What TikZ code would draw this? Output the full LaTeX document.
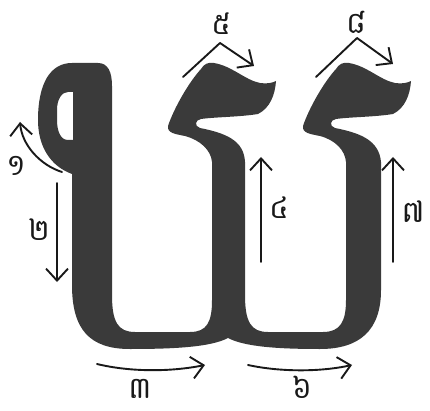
\documentclass[tikz,border=0pt]{standalone}
\usepackage{fontspec}
\newfontfamily\khmer[Script=Khmer]{Battambang}
\usetikzlibrary{arrows.meta}
\definecolor{glyph}{RGB}{58,58,58}
\definecolor{ink}{RGB}{25,25,25}
\begin{document}
\begin{tikzpicture}[x=1pt,y=-1pt,
  arr/.style={draw=ink,line width=1.9pt,line cap=round,line join=round,
    -{Straight Barb[length=12pt,width=22pt]}},
  lab/.style={text=ink,font=\khmer\fontsize{30}{30}\selectfont,inner sep=0pt}]
\useasboundingbox (0,0) rectangle (430,411);
% the letter
\fill[glyph,even odd rule]
  (72,63) -- (98,63) .. controls (108,63) and (112,72) .. (112,86)
  -- (112,295) .. controls (112,322) and (118,332) .. (135,332)
  -- (190,332) .. controls (207,332) and (212,322) .. (212,300)
  -- (212,162) .. controls (211,150) and (200,140) .. (185,136)
  .. controls (175,134) and (167,133) .. (168,126)
  .. controls (174,108) and (189,82) .. (201,69)
  .. controls (204,64) and (208,62) .. (214,63)
  .. controls (232,66) and (245,80) .. (260,83)
  .. controls (267,84) and (272,83) .. (276,81)
  .. controls (275,95) and (270,108) .. (258,114)
  .. controls (240,117) and (215,117) .. (201,119)
  .. controls (195,120) and (194,126) .. (200,128)
  .. controls (225,133) and (244,140) .. (245,162)
  -- (245,295) .. controls (245,322) and (251,332) .. (268,332)
  -- (323,332) .. controls (340,332) and (346,322) .. (346,300)
  -- (346,162) .. controls (345,150) and (335,140) .. (320,136)
  .. controls (310,134) and (302,133) .. (303,126)
  .. controls (309,108) and (324,82) .. (336,69)
  .. controls (339,64) and (343,62) .. (349,63)
  .. controls (367,66) and (380,80) .. (395,83)
  .. controls (402,84) and (407,83) .. (411,81)
  .. controls (410,95) and (405,108) .. (393,114)
  .. controls (375,117) and (350,117) .. (336,119)
  .. controls (330,120) and (329,126) .. (335,128)
  .. controls (360,133) and (379,140) .. (381,162)
  -- (381,290) .. controls (381,330) and (360,349) .. (320,349)
  .. controls (280,349) and (245,347) .. (228,338)
  .. controls (211,347) and (175,349) .. (130,349)
  .. controls (90,349) and (72,330) .. (72,285)
  -- (72,174) .. controls (50,166) and (38,146) .. (38,120)
  .. controls (38,84) and (50,63) .. (72,63) -- cycle
  (73,92) -- (73,140) -- (68,140) .. controls (61,140) and (57,132) .. (57,120)
  -- (57,110) .. controls (57,99) and (62,92) .. (68,92) -- cycle;
% arrow end points
\coordinate (a1s) at (62,172); \coordinate (a1e) at (20,122);
\coordinate (a2s) at (57,183); \coordinate (a2e) at (57,282);
\coordinate (a3s) at (97,364); \coordinate (a3e) at (205,365);
\coordinate (a4s) at (261,262); \coordinate (a4e) at (261,157);
\coordinate (a5s) at (183,77); \coordinate (a5m) at (220,43); \coordinate (a5e) at (254,66);
\coordinate (a6s) at (248,365); \coordinate (a6e) at (352,365);
\coordinate (a7s) at (393,262); \coordinate (a7e) at (393,157);
\coordinate (a8s) at (316,77); \coordinate (a8m) at (357,38); \coordinate (a8e) at (393,64);
\draw[arr] (a1s) .. controls (40,165) and (22,145) .. (a1e);
\draw[arr] (a2s) -- (a2e);
\draw[arr] (a3s) .. controls (130,372) and (170,372) .. (a3e);
\draw[arr] (a4s) -- (a4e);
\draw[arr] (a5s) -- (a5m) -- (a5e);
\draw[arr] (a6s) .. controls (280,372) and (320,372) .. (a6e);
\draw[arr] (a7s) -- (a7e);
\draw[arr] (a8s) -- (a8m) -- (a8e);
% labels
\node[lab] (l1) at (16,166) {១};
\node[lab] (l2) at (39,230) {២};
\node[lab] (l3) at (140,389) {៣};
\node[lab] (l4) at (279,208) {៤};
\node[lab] (l5) at (221,24) {៥};
\node[lab] (l6) at (302,387) {៦};
\node[lab] (l7) at (413,212) {៧};
\node[lab] (l8) at (356,22) {៨};
\end{tikzpicture}
\end{document}
